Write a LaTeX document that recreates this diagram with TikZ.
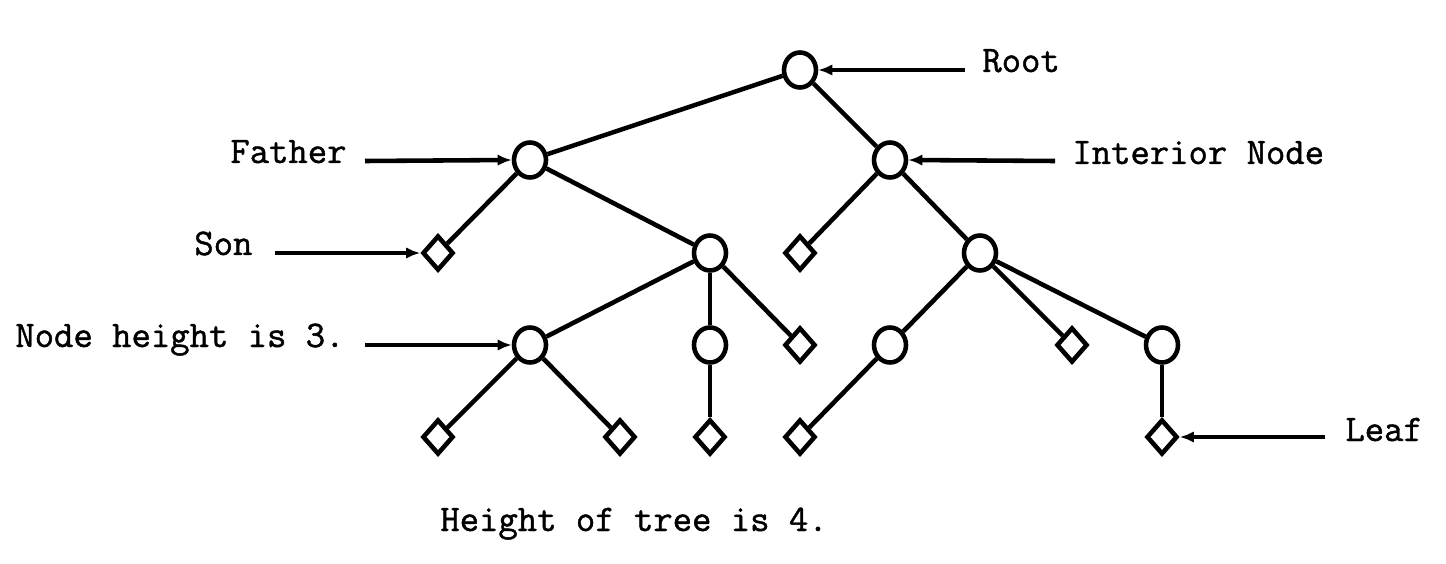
\documentclass[tikz,border=0pt]{standalone}
\usepackage{fontspec}
\newfontfamily\heavytt{Latin Modern Mono}[FakeBold=1.2]
\usetikzlibrary{shapes.geometric,arrows.meta}
\begin{document}
\begin{tikzpicture}[x=0.02cm,y=-0.02cm,
  inode/.style={draw,ellipse,inner sep=0pt,minimum width=0.64cm,minimum height=0.7cm,line width=2.6pt},
  leafnode/.style={draw,diamond,inner sep=0pt,minimum width=0.62cm,minimum height=0.7cm,line width=2.6pt},
  lbl/.style={anchor=base west,inner sep=0pt,font=\heavytt\fontsize{21.4}{24}\selectfont},
  edge/.style={line width=2.6pt},
  pointer/.style={line width=2.6pt,-{Latex[length=8pt,width=6.5pt]}}]
\useasboundingbox (0,0) rectangle (1446,564);
% tree nodes
\node[inode] (R) at (800,70) {};
\node[inode] (F) at (530,160) {};
\node[inode] (I) at (890,160) {};
\node[leafnode] (S) at (438,253) {};
\node[inode] (A) at (710,253) {};
\node[leafnode] (D1) at (800,253) {};
\node[inode] (B) at (980,253) {};
\node[inode] (C1) at (530,345) {};
\node[inode] (C2) at (710,345) {};
\node[leafnode] (D2) at (800,345) {};
\node[inode] (C3) at (890,345) {};
\node[leafnode] (D3) at (1072,345) {};
\node[inode] (C4) at (1162,345) {};
\node[leafnode] (L1) at (438,437) {};
\node[leafnode] (L2) at (620,437) {};
\node[leafnode] (L3) at (710,437) {};
\node[leafnode] (L4) at (800,437) {};
\node[leafnode] (L5) at (1162,437) {};
% edges
\draw[edge] (R) -- (F);
\draw[edge] (R) -- (I);
\draw[edge] (F) -- (S);
\draw[edge] (F) -- (A);
\draw[edge] (I) -- (D1);
\draw[edge] (I) -- (B);
\draw[edge] (A) -- (C1);
\draw[edge] (A) -- (C2);
\draw[edge] (A) -- (D2);
\draw[edge] (B) -- (C3);
\draw[edge] (B) -- (D3);
\draw[edge] (B) -- (C4);
\draw[edge] (C1) -- (L1);
\draw[edge] (C1) -- (L2);
\draw[edge] (C2) -- (L3);
\draw[edge] (C3) -- (L4);
\draw[edge] (C4) -- (L5);
% labels
\node[lbl] (tRoot) at (982,72) {Root};
\node[lbl] (tFather) at (230,163) {Father};
\node[lbl] (tInt) at (1072,164) {Interior Node};
\node[lbl] (tSon) at (194,255) {Son};
\node[lbl] (tNH) at (15,347) {Node height is 3.};
\node[lbl] (tLeaf) at (1345,441) {Leaf};
\node[lbl] (tH) at (440,531) {Height of tree is 4.};
% pointer start coordinates
\coordinate (pRoot) at (965,70);
\coordinate (pFather) at (365,161);
\coordinate (pInt) at (1055,161);
\coordinate (pSon) at (275,253);
\coordinate (pNH) at (365,345);
\coordinate (pLeaf) at (1325,437);
\draw[pointer] (pRoot) -- (R.east);
\draw[pointer] (pFather) -- (F.west);
\draw[pointer] (pInt) -- (I.east);
\draw[pointer] (pSon) -- (S.west);
\draw[pointer] (pNH) -- (C1.west);
\draw[pointer] (pLeaf) -- (L5.east);
\end{tikzpicture}
\end{document}
